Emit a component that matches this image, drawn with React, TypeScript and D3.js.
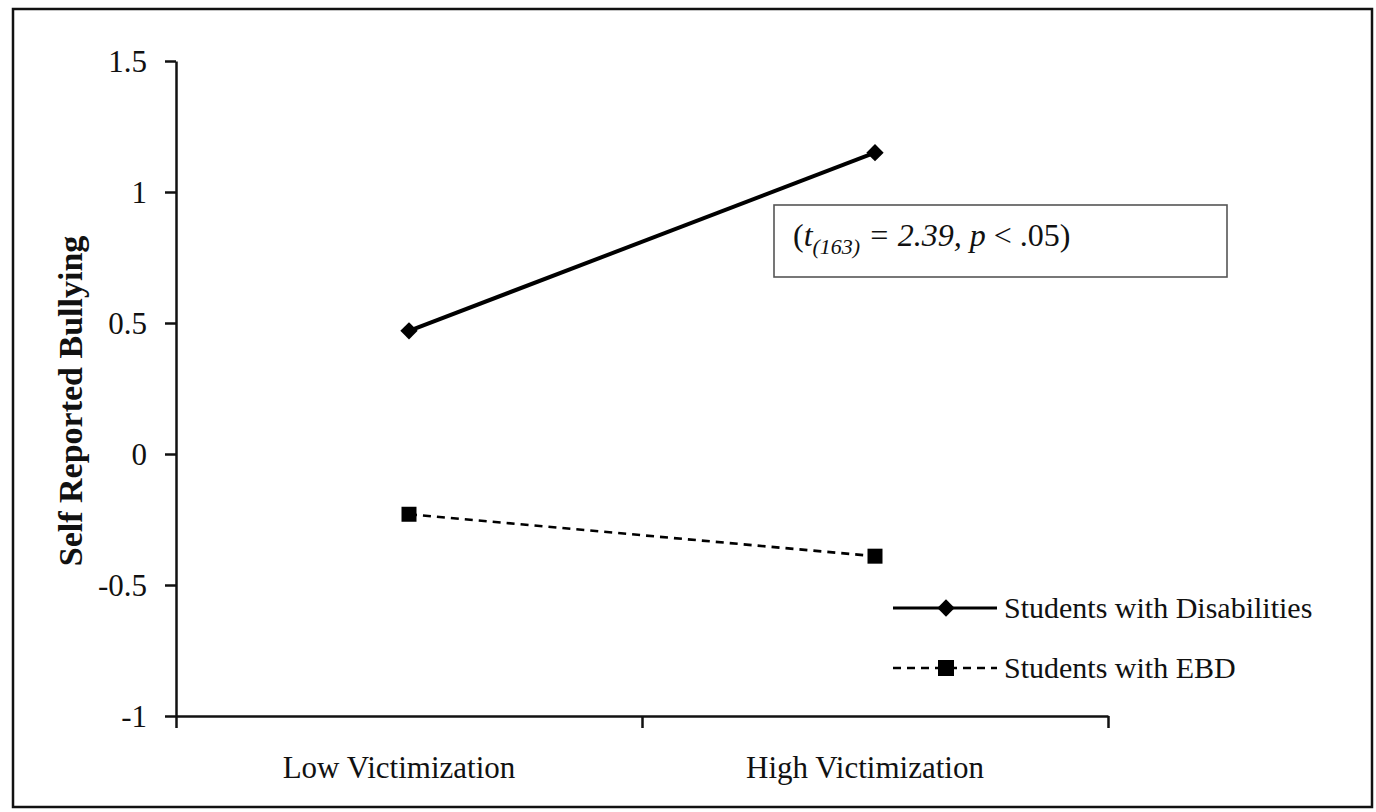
import { useEffect, useRef } from "react";
import * as d3 from "d3";

const categories = ["Low Victimization", "High Victimization"];
const disabilities = [0.47, 1.15];
const ebd = [-0.23, -0.39];
const yTicks = [-1, -0.5, 0, 0.5, 1, 1.5];
const seriesNames = ["Students with Disabilities", "Students with EBD"];

const FONT = "'Liberation Serif', 'Times New Roman', serif";

export default function App() {
  const svgRef = useRef<SVGSVGElement | null>(null);

  useEffect(() => {
    if (!svgRef.current) {
      return;
    }
    const svg = d3.select(svgRef.current);
    svg.selectAll("*").remove();

    const width = 1376;
    const height = 812;

    svg.append("rect").attr("width", width).attr("height", height).attr("fill", "#fff");

    // outer frame
    svg
      .append("rect")
      .attr("x", 13)
      .attr("y", 9)
      .attr("width", 1359)
      .attr("height", 798)
      .attr("fill", "none")
      .attr("stroke", "#111")
      .attr("stroke-width", 2.5);

    const x = d3.scaleLinear().domain([0, 2]).range([176, 1108]);
    const y = d3.scaleLinear().domain([-1, 1.5]).range([716, 61]);

    // y axis
    svg
      .append("g")
      .attr("transform", `translate(${x(0)},0)`)
      .call(
        d3
          .axisLeft(y)
          .tickValues(yTicks)
          .tickSize(11)
          .tickSizeOuter(0)
          .tickPadding(18)
          .tickFormat((d) => String(d)),
      )
      .call((axis) => axis.select(".domain").attr("stroke", "#111").attr("stroke-width", 2.5))
      .call((axis) => axis.selectAll("line").attr("stroke", "#111").attr("stroke-width", 2.5))
      .call((axis) =>
        axis
          .selectAll("text")
          .attr("fill", "#111")
          .attr("dy", "0.34em")
          .style("font-family", FONT)
          .style("font-size", "31px"),
      );

    // x axis
    svg
      .append("g")
      .attr("transform", `translate(0,${y(-1)})`)
      .call(
        d3
          .axisBottom(x)
          .tickValues([0, 1, 2])
          .tickSize(12)
          .tickSizeOuter(0)
          .tickFormat(() => ""),
      )
      .call((axis) => axis.select(".domain").attr("stroke", "#111").attr("stroke-width", 2.5))
      .call((axis) => axis.selectAll("line").attr("stroke", "#111").attr("stroke-width", 2.5));

    svg
      .append("g")
      .selectAll("text")
      .data(categories)
      .enter()
      .append("text")
      .attr("x", (_, i) => x(i + 0.5) - 10)
      .attr("y", 778)
      .attr("text-anchor", "middle")
      .attr("fill", "#111")
      .style("font-family", FONT)
      .style("font-size", "31px")
      .text((d) => d);

    // y title
    svg
      .append("text")
      .attr("transform", `translate(82,401) rotate(-90)`)
      .attr("text-anchor", "middle")
      .attr("fill", "#111")
      .style("font-family", FONT)
      .style("font-size", "34px")
      .style("font-weight", "bold")
      .text("Self Reported Bullying");

    const line = d3
      .line<number>()
      .x((_, i) => x(i + 0.5))
      .y((d) => y(d));

    const diamond = d3.symbol(d3.symbolSquare, 150);
    const square = d3.symbol(d3.symbolSquare, 225);

    // series: students with disabilities
    svg
      .append("path")
      .datum(disabilities)
      .attr("fill", "none")
      .attr("stroke", "#000")
      .attr("stroke-width", 4)
      .attr("d", line);

    svg
      .selectAll("path.dis-marker")
      .data(disabilities)
      .enter()
      .append("path")
      .attr("class", "dis-marker")
      .attr("d", diamond)
      .attr("fill", "#000")
      .attr("transform", (d, i) => `translate(${x(i + 0.5)},${y(d)}) rotate(45)`);

    // series: students with EBD
    svg
      .append("path")
      .datum(ebd)
      .attr("fill", "none")
      .attr("stroke", "#000")
      .attr("stroke-width", 2.6)
      .attr("stroke-dasharray", "8 6")
      .attr("d", line);

    svg
      .selectAll("path.ebd-marker")
      .data(ebd)
      .enter()
      .append("path")
      .attr("class", "ebd-marker")
      .attr("d", square)
      .attr("fill", "#000")
      .attr("transform", (d, i) => `translate(${x(i + 0.5)},${y(d)})`);

    // legend
    const legend = svg.append("g");
    const legendRows = [608, 668];
    seriesNames.forEach((name, i) => {
      const ly = legendRows[i];
      legend
        .append("line")
        .attr("x1", 893)
        .attr("x2", 997)
        .attr("y1", ly)
        .attr("y2", ly)
        .attr("stroke", "#000")
        .attr("stroke-width", i === 0 ? 3.2 : 2.6)
        .attr("stroke-dasharray", i === 0 ? null : "8 6");
      legend
        .append("path")
        .attr("d", i === 0 ? diamond : d3.symbol(d3.symbolSquare, 256))
        .attr("fill", "#000")
        .attr("transform", `translate(946,${ly})${i === 0 ? " rotate(45)" : ""}`);
      legend
        .append("text")
        .attr("x", 1004)
        .attr("y", ly + 10)
        .attr("fill", "#111")
        .style("font-family", FONT)
        .style("font-size", "30px")
        .text(name);
    });

    // annotation box
    svg
      .append("rect")
      .attr("x", 774)
      .attr("y", 205)
      .attr("width", 453)
      .attr("height", 72)
      .attr("fill", "#fff")
      .attr("stroke", "#555")
      .attr("stroke-width", 1.6);

    const note = svg
      .append("text")
      .attr("x", 793)
      .attr("y", 246)
      .attr("fill", "#111")
      .style("font-family", FONT)
      .style("font-size", "32px");
    note.append("tspan").text("(");
    note.append("tspan").style("font-style", "italic").text("t");
    note
      .append("tspan")
      .style("font-style", "italic")
      .style("font-size", "22px")
      .attr("dy", 8)
      .text("(163)");
    note.append("tspan").style("font-style", "italic").attr("dy", -8).text(" = 2.39, p");
    note.append("tspan").text(" < .05)");
  }, []);

  return (
    <div style={{ position: "absolute", left: 0, top: 0 }}>
      <svg ref={svgRef} width={1376} height={812} style={{ display: "block" }} />
    </div>
  );
}
